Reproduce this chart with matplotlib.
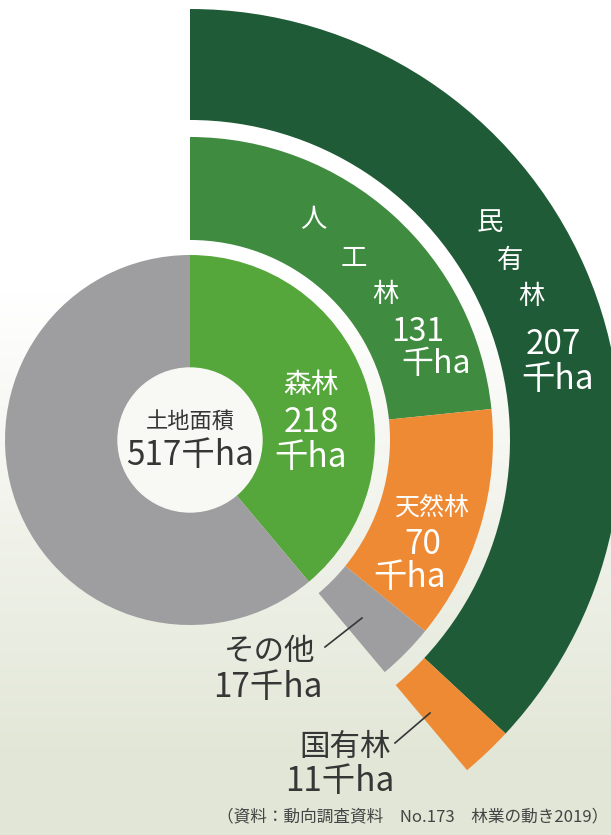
import matplotlib.pyplot as plt
import numpy as np

plt.rcParams['font.family'] = ['Noto Sans CJK JP', 'DejaVu Sans']

# 面積 (千ha)
land_total = 517
forest = 218
forest_types = ['人工林', '天然林', 'その他']
forest_type_values = [131, 70, 17]
owners = ['民有林', '国有林']
owner_values = [207, 11]
source = '（資料：動向調査資料　No.173　林業の動き2019）'

W, H = 611, 835
fig = plt.figure(figsize=(W / 100, H / 100), dpi=100)
ax = fig.add_axes([0, 0, 1, 1])

# background: white at the top fading into a pale green-grey
t = np.clip((np.linspace(0, 1, 300) - 0.35) / 0.55, 0, 1)[:, None, None]
top = np.array([1.0, 1.0, 1.0])
bottom = np.array([0.89, 0.905, 0.845])
bg = top * (1 - t) + bottom * t
ax.imshow(bg, extent=[0, W, 0, H], aspect='auto', zorder=0)

center = (190, H - 440)
# the forest part is drawn over a 140 degree arc, like the original figure
arc = 140 / 360 / forest

ax.pie([forest * arc, 1 - forest * arc], radius=185, center=center, startangle=90,
       counterclock=False, normalize=False, colors=['#55a73b', '#9e9ea0'],
       wedgeprops=dict(width=113, linewidth=0))
ax.pie(np.array(forest_type_values) * arc, radius=303, center=center, startangle=90,
       counterclock=False, normalize=False, colors=['#3f8b3f', '#ee8a33', '#9e9ea0'],
       wedgeprops=dict(width=103, linewidth=0))
ax.pie(np.array(owner_values) * arc, radius=431, center=center, startangle=90,
       counterclock=False, normalize=False, colors=['#1f5b36', '#ee8a33'],
       wedgeprops=dict(width=111, linewidth=0))
# light centre hole
ax.add_patch(plt.Circle(center, 72, color='#f8f8f4', zorder=1))

ax.set_xlim(0, W)
ax.set_ylim(0, H)
ax.axis('off')

dark = '#363636'
white = 'white'


def label(x, y, s, size, color=white, **kw):
    ax.text(x, H - y, s, fontsize=size, color=color, ha='center', va='center', zorder=5, **kw)


# center
label(190, 421, '土地面積', 16, dark)
label(190, 455, f'{land_total}千ha', 24, dark)

# forest
label(311, 385, '森林', 20)
label(311, 423, f'{forest}', 24)
label(311, 458, '千ha', 24)

# 人工林 (set diagonally)
for (x, y), ch in zip([(313, 220), (354, 258), (385, 294)], forest_types[0]):
    label(x, y, ch, 19)
label(418, 332, f'{forest_type_values[0]}', 23)
label(436, 364, '千ha', 23)

# 民有林
for (x, y), ch in zip([(490, 222), (510, 260), (531, 296)], owners[0]):
    label(x, y, ch, 19)
label(553, 345, f'{owner_values[0]}', 24)
label(558, 379, '千ha', 24)

# 天然林
label(432, 509, forest_types[1], 18)
label(423, 545, f'{forest_type_values[1]}', 24)
label(410, 578, '千ha', 24)

# その他
label(270, 651, forest_types[2], 22, dark)
label(268, 687, f'{forest_type_values[2]}千ha', 24, dark)
ax.plot([325, 362], [H - 647, H - 618], color=dark, lw=1.2, zorder=5)

# 国有林
label(345, 748, owners[1], 22, dark)
label(340, 781, f'{owner_values[1]}千ha', 24, dark)
ax.plot([395, 430], [H - 743, H - 713], color=dark, lw=1.2, zorder=5)

# source
ax.text(608, H - 817, source, fontsize=12, color='#444444', ha='right', va='center')

fig.savefig('out.png', dpi=100)
